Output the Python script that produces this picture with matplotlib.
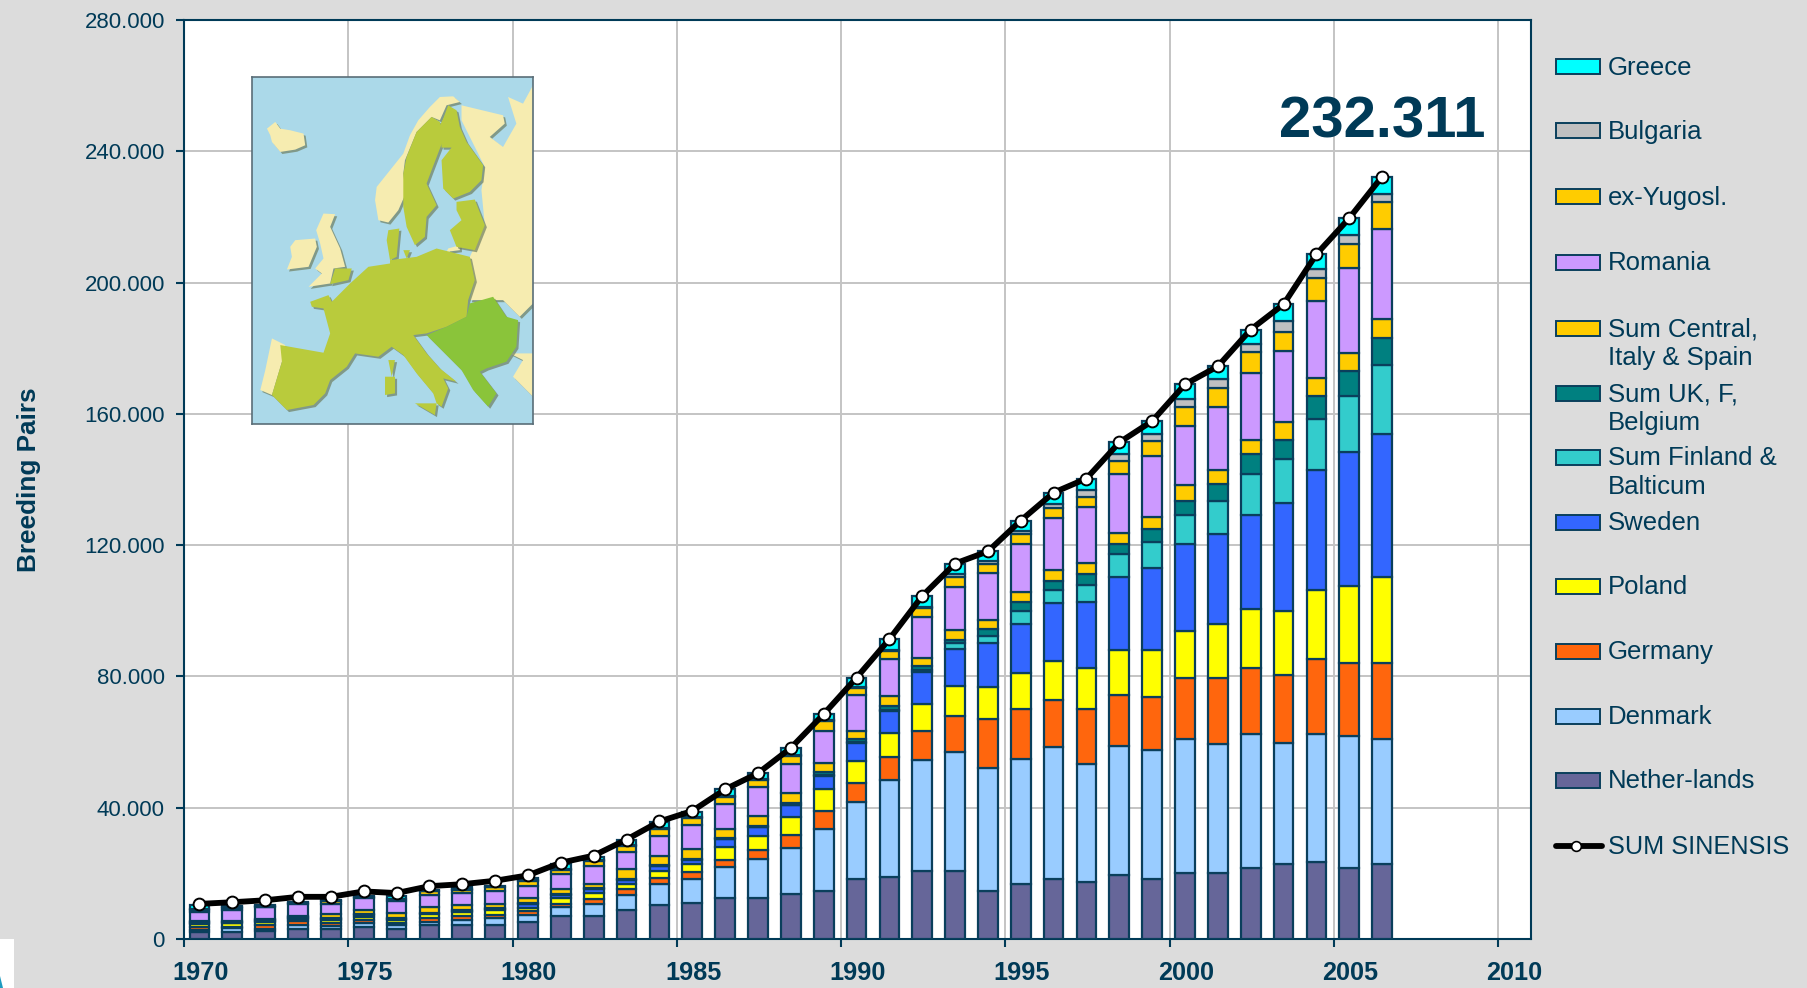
import numpy as np
import matplotlib
matplotlib.use('Agg')
import matplotlib.pyplot as plt
import matplotlib.patheffects as pe
from matplotlib.patches import Polygon, Rectangle

plt.rcParams['font.family'] = ['Liberation Sans', 'DejaVu Sans']

NAVY = '#003A57'

# breeding pairs per year
years = list(range(1970, 2007))
netherlands = [2000, 2000, 2500, 3100, 3100, 3600, 3100, 4200, 4300, 4300, 5300, 7000, 7000, 8700, 10300, 10900, 12400, 12500, 13600, 14600, 18400, 18900, 20700, 20700, 14700, 16800, 18400, 17300, 19500, 18400, 20000, 20000, 21600, 22700, 23400, 21600, 22700]
denmark = [700, 1250, 400, 1200, 1000, 1200, 1100, 1100, 1500, 2000, 2150, 2600, 3600, 4800, 6400, 7400, 9650, 11900, 14000, 18900, 23300, 29400, 33700, 36300, 37400, 38000, 40200, 36100, 39300, 39100, 40800, 39300, 40800, 37000, 39000, 40250, 38100]
germany = [900, 400, 1400, 1100, 700, 1000, 600, 1000, 1300, 1000, 1100, 1000, 1700, 1700, 1800, 2200, 2000, 2700, 4200, 5400, 5900, 7000, 9100, 10800, 14800, 15300, 14100, 16700, 15550, 16300, 18600, 20100, 20100, 20600, 22800, 22250, 23300]
poland = [1100, 1100, 1000, 700, 1000, 1000, 1000, 1200, 1200, 1400, 1000, 1800, 1700, 1500, 2100, 2200, 4050, 4300, 5500, 6700, 6600, 7500, 8200, 9300, 9800, 10800, 12000, 12400, 13550, 14100, 14500, 16700, 17900, 19600, 21200, 23400, 26100]
sweden = [200, 200, 200, 300, 300, 500, 400, 300, 300, 400, 1100, 1100, 1200, 1300, 1500, 1500, 2250, 2600, 3450, 4200, 5400, 6600, 9800, 11400, 13500, 15200, 17600, 20100, 22300, 25000, 26300, 27200, 28800, 32800, 36600, 41000, 43700]
finland_balticum = [100, 100, 100, 100, 100, 100, 100, 100, 100, 100, 100, 100, 100, 100, 100, 100, 100, 100, 150, 300, 400, 500, 500, 1600, 2200, 3900, 4100, 5400, 7100, 8200, 9000, 10300, 12500, 13400, 15500, 16900, 20950]
uk_f_belgium = [100, 100, 100, 100, 100, 100, 100, 100, 100, 100, 100, 100, 100, 100, 200, 200, 200, 200, 450, 650, 900, 1050, 1100, 1150, 2200, 2700, 2700, 3300, 3200, 3800, 4400, 4900, 6000, 6000, 7000, 7800, 8150]
central_italy_spain = [400, 350, 300, 500, 1200, 1200, 1600, 1700, 1500, 1400, 1550, 1500, 1400, 3100, 3000, 3000, 2850, 3050, 3100, 2950, 2550, 2950, 2650, 2850, 2700, 2900, 3400, 3300, 3300, 3800, 4600, 4500, 4400, 5400, 5400, 5400, 6000]
romania = [2870, 3480, 3600, 3500, 3200, 3700, 3700, 3700, 3700, 3800, 3600, 4700, 5300, 5300, 6100, 7200, 7600, 8830, 8730, 9800, 10960, 11360, 12480, 13000, 14200, 14700, 15700, 17000, 17900, 18500, 18200, 19000, 20400, 21700, 23500, 25700, 27300]
ex_yugosl = [530, 420, 300, 300, 800, 300, 400, 1100, 1000, 1200, 1700, 1200, 1800, 1700, 1900, 2040, 2240, 2120, 2610, 2800, 2100, 2440, 2650, 3200, 2700, 3000, 3200, 3100, 3800, 4500, 5700, 5800, 6200, 5800, 7000, 7500, 8100]
bulgaria = [200, 200, 200, 200, 200, 200, 200, 200, 200, 200, 200, 300, 300, 300, 300, 300, 300, 300, 300, 300, 300, 300, 300, 1000, 1000, 1000, 1100, 2200, 2200, 2200, 2500, 2700, 2500, 3400, 2800, 2700, 2700]
greece = [1400, 500, 200, 200, 200, 300, 700, 300, 500, 300, 700, 1500, 800, 1500, 1900, 1730, 1930, 1850, 2070, 1900, 2790, 3350, 3320, 3100, 2900, 3200, 3500, 3400, 3600, 3900, 4400, 4000, 4500, 5000, 4450, 5150, 5211]
sum_sinensis = [10700, 11200, 11800, 12850, 12850, 14500, 14000, 16100, 16700, 17750, 19400, 23250, 25400, 30300, 35800, 39000, 45600, 50500, 58200, 68500, 79600, 91350, 104500, 114400, 118100, 127500, 136000, 140300, 151300, 157800, 169000, 174500, 185700, 193400, 208650, 219650, 232311]

# bottom to top
stack = [
    (netherlands, '#666699'),
    (denmark, '#99CCFF'),
    (germany, '#FF660D'),
    (poland, '#FFFF00'),
    (sweden, '#3366FF'),
    (finland_balticum, '#33CCCC'),
    (uk_f_belgium, '#008080'),
    (central_italy_spain, '#FFCC00'),
    (romania, '#CC99FF'),
    (ex_yugosl, '#FFCC00'),
    (bulgaria, '#C0C0C0'),
    (greece, '#00FFFF'),
]

# legend, top to bottom
legend_names = ['Greece', 'Bulgaria', 'ex-Yugosl.', 'Romania', 'Sum Central,\nItaly & Spain',
                'Sum UK, F,\nBelgium', 'Sum Finland &\nBalticum', 'Sweden', 'Poland', 'Germany',
                'Denmark', 'Nether-lands']
legend_y = [67, 131, 197, 262, 328, 393, 457, 522, 586, 651, 716, 780]
sum_label = 'SUM SINENSIS'

y_ticks = [0, 40000, 80000, 120000, 160000, 200000, 240000, 280000]
y_labels = ['0', '40.000', '80.000', '120.000', '160.000', '200.000', '240.000', '280.000']
x_ticks = list(range(1970, 2011, 5))

# map shapes, in the picture's own crop coordinates (0-930, 0-1140)
map_cream = [
    [(665, 135), (790, 165), (795, 190), (750, 230), (790, 260), (830, 190), (805, 110), (850, 130), (880, 75), (880, 730), (840, 770), (790, 720), (690, 720), (705, 660), (690, 590), (735, 495), (725, 390), (735, 320), (690, 230), (665, 180)],
    [(80, 205), (105, 185), (120, 205), (150, 210), (190, 220), (195, 255), (165, 268), (120, 275), (95, 245), (90, 225)],
    [(660, 125), (640, 108), (600, 110), (570, 140), (535, 180), (510, 225), (490, 280), (450, 330), (410, 380), (405, 420), (415, 480), (445, 487), (475, 450), (497, 400), (490, 340), (495, 300), (530, 215), (575, 170), (600, 180), (620, 135)],
    [(250, 460), (285, 462), (270, 500), (300, 565), (315, 620), (280, 625), (270, 670), (205, 680), (245, 640), (225, 625), (250, 595), (240, 550), (228, 510)],
    [(165, 540), (225, 535), (230, 560), (205, 620), (140, 628), (155, 590), (150, 560)],
    [(95, 835), (135, 855), (125, 905), (95, 1005), (60, 990), (75, 930)],
    [(810, 880), (880, 880), (880, 1010), (820, 950), (850, 900)],
    [(625, 565), (660, 555), (660, 570), (620, 575)],
]
map_eu = [
    [(575, 170), (600, 185), (610, 240), (600, 265), (575, 330), (560, 370), (590, 435), (560, 470), (555, 530), (525, 555), (500, 500), (490, 440), (490, 340), (500, 290), (530, 215)],
    [(625, 135), (650, 150), (660, 200), (680, 245), (730, 315), (725, 360), (690, 395), (640, 415), (610, 385), (605, 300), (635, 262), (605, 262), (600, 195), (610, 175)],
    [(650, 425), (705, 418), (735, 495), (705, 570), (650, 560), (630, 510), (665, 480), (650, 450)],
    [(285, 625), (335, 625), (325, 660), (270, 672)],
    [(445, 510), (478, 505), (470, 590), (450, 600), (440, 540)],
    [(490, 570), (510, 570), (500, 595)],
    [(210, 725), (265, 705), (275, 725), (330, 670), (385, 620), (450, 610), (450, 600), (530, 590), (590, 565), (690, 590), (705, 660), (685, 720), (680, 770), (620, 800), (560, 820), (520, 825), (560, 880), (600, 925), (650, 965), (610, 955), (625, 985), (605, 1040), (590, 1030), (580, 1000), (530, 940), (490, 885), (455, 860), (415, 890), (345, 880), (320, 920), (270, 960), (255, 1000), (220, 1035), (140, 1050), (95, 1005), (125, 905), (120, 855), (250, 878), (270, 820), (250, 745), (215, 740)],
    [(525, 1030), (590, 1030), (585, 1065)],
    [(445, 900), (465, 900), (455, 950)],
    [(435, 950), (465, 950), (465, 1000), (435, 1005)],
]
map_new = [
    [(690, 730), (760, 710), (800, 770), (835, 780), (830, 860), (800, 905), (740, 925), (720, 935), (770, 1000), (745, 1040), (700, 990), (665, 930), (620, 885), (560, 825), (620, 800), (680, 770)],
]

W, H = 1807, 988


def axes_at(fig, left, top, right, bottom):
    return fig.add_axes([left / W, 1 - bottom / H, (right - left) / W, (bottom - top) / H])


def draw_chart(ax):
    x = np.array(years) + 0.47
    bottom = np.zeros(len(years))
    for values, color in stack:
        ax.bar(x, values, width=0.6, bottom=bottom, color=color, edgecolor='#0A3F5C', linewidth=1.6, zorder=3)
        bottom += np.array(values)
    ax.plot(x, sum_sinensis, color='black', lw=4.2, marker='o', ms=8.5, mfc='white', mec='black', mew=1.4,
            zorder=5, solid_capstyle='round')

    ax.set_xlim(1970, 2011)
    ax.set_ylim(0, 280000)
    ax.set_xticks(x_ticks)
    ax.set_xticklabels([])
    ax.set_xticks([t + 0.5 for t in x_ticks], minor=True)
    ax.set_xticklabels([str(t) for t in x_ticks], minor=True, fontsize=18.2, fontweight='bold', color=NAVY)
    ax.set_yticks(y_ticks)
    ax.set_yticklabels(y_labels, fontsize=16, color=NAVY)
    ax.tick_params(axis='x', which='major', length=5.5, width=1.5, color=NAVY)
    ax.tick_params(axis='x', which='minor', length=0, pad=16)
    ax.tick_params(axis='y', length=5.8, width=1.5, color=NAVY, pad=8)
    ax.grid(True, which='major', color='#C4C4C4', lw=1.4, zorder=0)
    ax.set_axisbelow(True)
    for s in ax.spines.values():
        s.set_color(NAVY)
        s.set_linewidth(1.5)


def draw_map(ax):
    ax.set_facecolor('#ABD9E9')
    shadow = [pe.SimplePatchShadow(offset=(1.5, -1.5), shadow_rgbFace='#6F7F60', alpha=0.7), pe.Normal()]
    for shapes, color in [(map_cream, '#F6ECB0'), (map_eu, '#B9CB3C'), (map_new, '#8AC43A')]:
        for p in shapes:
            ax.add_patch(Polygon(p, closed=True, fc=color, ec='none', path_effects=shadow))
    ax.set_xlim(35, 880)
    ax.set_ylim(1092, 50)
    ax.set_xticks([])
    ax.set_yticks([])
    for s in ax.spines.values():
        s.set_color('#5A6E78')
        s.set_linewidth(1.2)


def draw_overlay(ax):
    # everything outside the plot, placed in pixels of the picture
    ax.set_xlim(0, W)
    ax.set_ylim(H, 0)
    ax.axis('off')
    ax.patch.set_alpha(0)

    for (values, color), name, y in zip(stack[::-1], legend_names, legend_y):
        ax.add_patch(Rectangle((1556, y - 7.5), 44, 15, fc=color, ec='#0A3F5C', lw=1.4))
        ax.text(1608, y - 11, name, fontsize=18.5, color=NAVY, va='top', ha='left', linespacing=1.24)
    ax.plot([1556, 1602], [846, 846], color='black', lw=4.2, solid_capstyle='round')
    ax.plot([1576], [846], marker='o', ms=7, mfc='white', mec='black', mew=1.2)
    ax.text(1608, 847, sum_label, fontsize=18.2, color=NAVY, va='center', ha='left')

    ax.text(1382, 122, '232.311', fontsize=41.8, fontweight='bold', color=NAVY, ha='center', va='center')
    ax.text(29, 480, 'Breeding Pairs', fontsize=18.8, fontweight='bold', color=NAVY, rotation=90, ha='center', va='center')

    # scrap of a logo in the lower left corner
    ax.add_patch(Rectangle((0, 939), 14, 49, fc='white', ec='none'))
    ax.add_patch(Polygon([(0, 976), (3, 988), (0, 988)], closed=True, fc='#1E9BC0', ec='none'))


def main():
    fig = plt.figure(figsize=(W / 100, H / 100), dpi=100, facecolor='#DCDCDC')
    ax = axes_at(fig, 184, 20, 1531, 939)
    draw_chart(ax)
    ax_map = axes_at(fig, 252, 77, 533, 424)
    draw_map(ax_map)
    ax_over = fig.add_axes([0, 0, 1, 1])
    draw_overlay(ax_over)
    fig.savefig('out.png', dpi=100, facecolor=fig.get_facecolor())


if __name__ == "__main__":
    main()
